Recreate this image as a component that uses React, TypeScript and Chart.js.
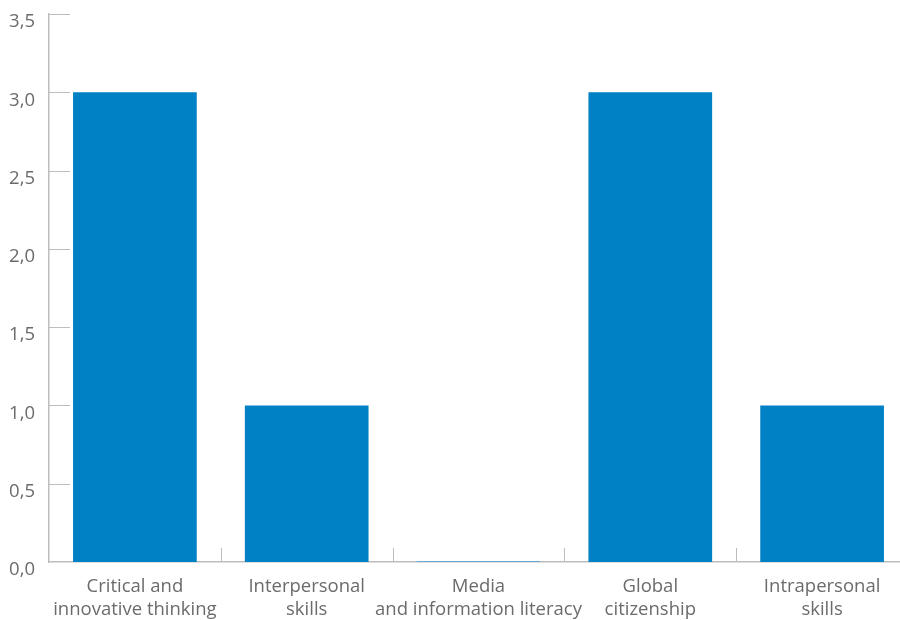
import React, { useEffect, useRef } from "react";
import { Chart, registerables } from "chart.js";

Chart.register(...registerables);

const categories: string[][] = [
  ["Critical and", "innovative thinking"],
  ["Interpersonal", "skills"],
  ["Media", "and information literacy"],
  ["Global", "citizenship"],
  ["Intrapersonal", "skills"],
];
const values: number[] = [3, 1, 0, 3, 1];
const yTicks: number[] = [0, 0.5, 1, 1.5, 2, 2.5, 3, 3.5];

const BAR = "#0080c5";
const AXIS = "#bdbdbd";
const TEXT = "#6b6b6b";

const tickPlugin = {
  id: "innerTicks",
  afterDatasetsDraw(chart: any) {
    const { ctx, scales, chartArea } = chart;
    const x = scales.x;
    const y = scales.y;
    ctx.save();
    ctx.strokeStyle = AXIS;
    ctx.lineWidth = 1;
    yTicks.forEach((v) => {
      if (v === 0) return;
      const py = Math.round(y.getPixelForValue(v)) + 0.5;
      ctx.beginPath();
      ctx.moveTo(chartArea.left, py);
      ctx.lineTo(chartArea.left + 21, py);
      ctx.stroke();
    });
    for (let i = 1; i < categories.length; i++) {
      const px = Math.round((x.getPixelForValue(i - 1) + x.getPixelForValue(i)) / 2) + 0.5;
      ctx.beginPath();
      ctx.moveTo(px, chartArea.bottom);
      ctx.lineTo(px, chartArea.bottom - 14);
      ctx.stroke();
    }
    ctx.restore();
  },
};

export default function App() {
  const ref = useRef<HTMLCanvasElement | null>(null);
  useEffect(() => {
    if (!ref.current) return;
    const chart = new Chart(ref.current, {
      type: "bar",
      data: {
        labels: categories,
        datasets: [
          {
            data: values,
            backgroundColor: (c: any) => (c.raw === 0 ? "#6aa9d6" : BAR),
            borderWidth: 0,
            minBarLength: 1,
            barPercentage: 0.72,
            categoryPercentage: 1,
          },
        ],
      },
      options: {
        animation: false,
        responsive: false,
        maintainAspectRatio: false,
        layout: { padding: { top: 14, right: 12, left: 0, bottom: 0 } },
        plugins: { legend: { display: false }, tooltip: { enabled: false } },
        scales: {
          x: {
            grid: { display: false, drawTicks: false },
            border: { display: true, color: AXIS, width: 1.5 },
            ticks: {
              color: TEXT,
              font: { family: "'Open Sans'", size: 18.5, lineHeight: 1.24 },
              padding: 13,
              maxRotation: 0,
              autoSkip: false,
            },
            afterFit(scale: any) {
              scale.height = 58;
            },
          },
          y: {
            min: 0,
            max: 3.5,
            grid: { display: false, drawTicks: false },
            border: { display: true, color: AXIS, width: 1.5 },
            afterBuildTicks(scale: any) {
              scale.ticks = yTicks.map((v) => ({ value: v }));
            },
            ticks: {
              color: TEXT,
              font: { family: "'Open Sans'", size: 18.5 },
              padding: 14,
              labelOffset: 8,
              callback: (v: any) => Number(v).toFixed(1).replace(".", ","),
            },
            afterFit(scale: any) {
              scale.width = 49;
              scale.paddingTop = 0;
              scale.paddingBottom = 0;
            },
          },
        },
      },
      plugins: [tickPlugin],
    });
    return () => chart.destroy();
  }, []);
  return (
    <div style={{ position: "absolute", left: 0, top: 0, width: 900, height: 620, overflow: "hidden", background: "#fff" }}>
      <canvas ref={ref} width={920} height={620} style={{ width: 920, height: 620, display: "block" }} />
    </div>
  );
}
